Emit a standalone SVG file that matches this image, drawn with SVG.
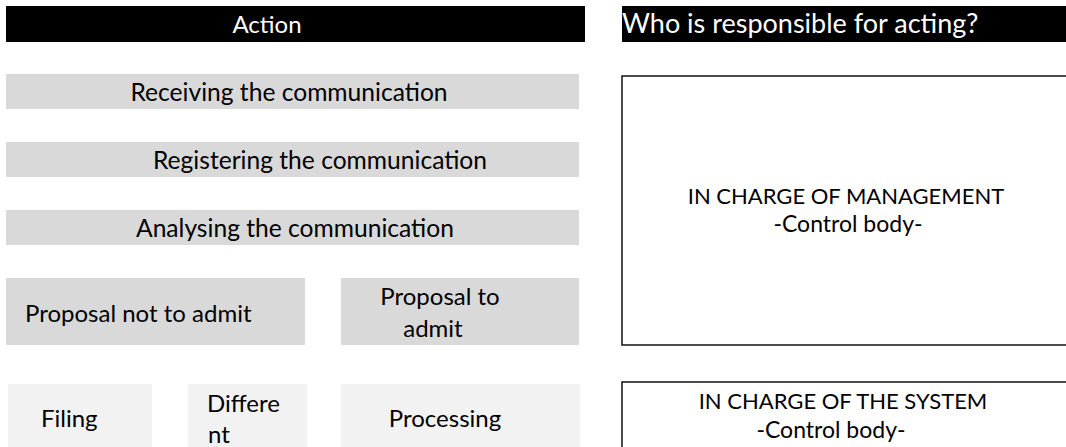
<svg xmlns="http://www.w3.org/2000/svg" width="1066" height="447" viewBox="0 0 1066 447">
<style>
text{font-family:Lato,"Open Sans","Liberation Sans",sans-serif;font-size:24px;fill:#000}
.hdr{fill:#000}
.hdrt{fill:#fff}
.big{font-size:27px}
.row{font-size:24.6px}
.caps{font-size:22px}
.sub{font-size:23px}
.g1{fill:#d9d9d9}
.g2{fill:#f2f2f2}
.box{fill:#fff;stroke:#111;stroke-width:1.5}
.m{text-anchor:middle}
</style>
<rect width="1066" height="447" fill="#fff"/>
<g id="header-action">
<rect class="hdr" x="6" y="6" width="579" height="36"/>
<text class="hdrt m" x="267" y="33">Action</text>
</g>
<g id="header-who">
<rect class="hdr" x="622" y="6" width="444" height="36"/>
<text class="hdrt big" x="622" y="33">Who is responsible for acting?</text>
</g>
<g id="receiving">
<rect class="g1" x="6" y="74" width="573" height="35"/>
<text class="m row" x="289" y="101">Receiving the communication</text>
</g>
<g id="registering">
<rect class="g1" x="6" y="142" width="573" height="35"/>
<text class="m row" x="320" y="169">Registering the communication</text>
</g>
<g id="analysing">
<rect class="g1" x="6" y="210" width="573" height="35"/>
<text class="m row" x="295" y="237">Analysing the communication</text>
</g>
<g id="not-admit">
<rect class="g1" x="6" y="278" width="299" height="67"/>
<text x="25" y="322">Proposal not to admit</text>
</g>
<g id="admit">
<rect class="g1" x="341" y="278" width="238" height="67"/>
<text class="m" x="440" y="305">Proposal to</text>
<text class="m" x="433" y="337">admit</text>
</g>
<g id="filing">
<rect class="g2" x="8" y="384" width="144" height="70"/>
<text x="41" y="427">Filing</text>
</g>
<g id="different">
<rect class="g2" x="188" y="384" width="119" height="70"/>
<text x="207" y="412">Differe</text>
<text x="208" y="443">nt</text>
</g>
<g id="processing">
<rect class="g2" x="341" y="384" width="239" height="70"/>
<text class="m" x="445" y="427">Processing</text>
</g>
<g id="management">
<rect class="box" x="622" y="76" width="450" height="269"/>
<text class="m caps" x="846" y="204">IN CHARGE OF MANAGEMENT</text>
<text class="m sub" x="848" y="232">-Control body-</text>
</g>
<g id="system">
<rect class="box" x="622" y="382" width="450" height="80"/>
<text class="m caps" x="843" y="409">IN CHARGE OF THE SYSTEM</text>
<text class="m sub" x="831" y="438">-Control body-</text>
</g>
<g id="connectors"/>
</svg>
